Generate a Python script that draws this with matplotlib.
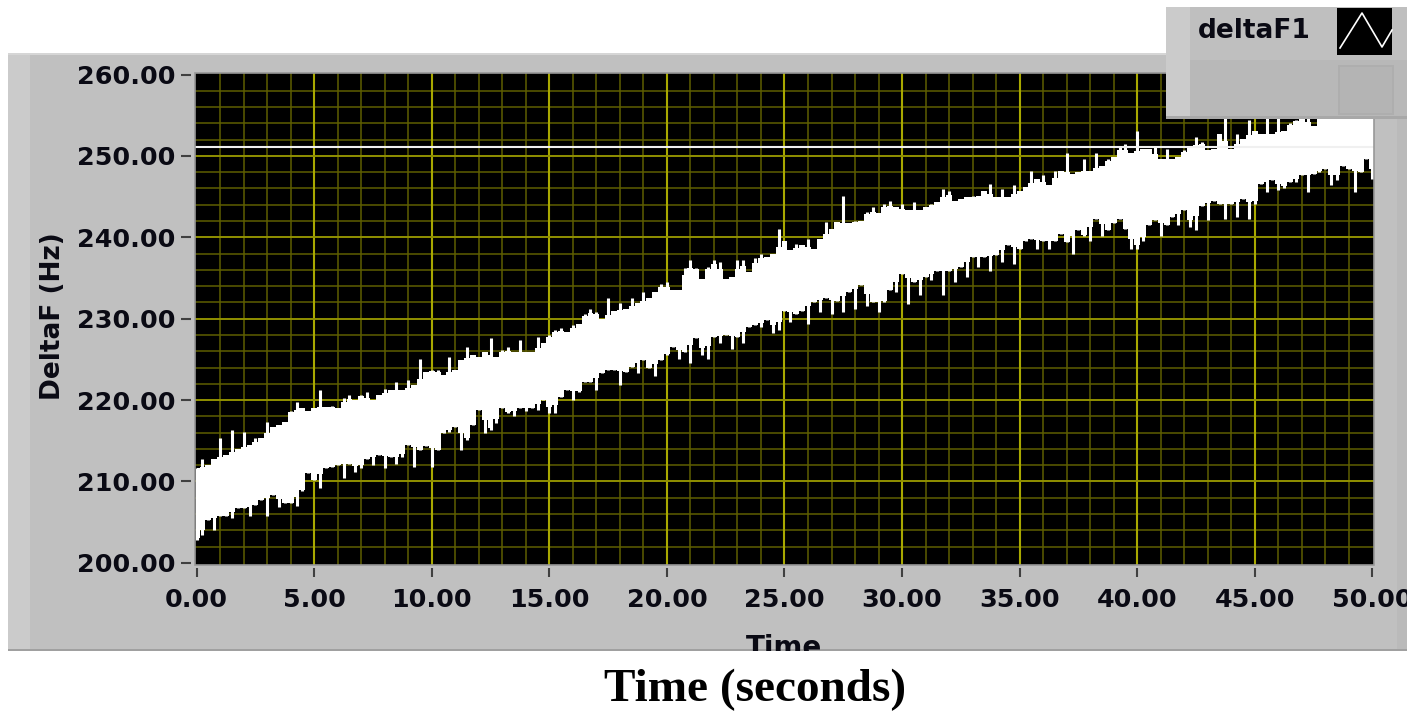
import numpy as np
import matplotlib
matplotlib.use("Agg")
import matplotlib.pyplot as plt
from matplotlib.patches import Rectangle
from matplotlib.lines import Line2D
from matplotlib.ticker import FormatStrFormatter

SAMPLE_STEP = 0.25
upper = [
 211.6,212.8,212.0,212.8,215.3,213.3,216.3,214.0,216.1,214.5,215.3,215.3,217.3,216.7,216.9,217.3,
 218.6,219.8,219.0,218.6,219.0,221.2,219.2,219.3,219.0,220.2,220.6,220.0,220.6,221.0,220.0,220.6,
 221.4,221.2,222.2,221.2,222.5,221.8,225.0,223.5,223.7,223.7,223.1,225.3,223.7,224.9,226.5,225.5,
 225.3,225.9,227.6,225.3,226.1,226.5,225.9,227.4,225.9,225.9,227.8,227.0,228.0,228.6,228.8,228.4,
 229.2,229.4,230.6,231.2,230.8,230.0,232.5,231.0,231.9,231.2,232.5,231.9,233.3,232.5,233.3,234.3,
 234.5,233.5,233.5,236.2,237.2,236.2,234.9,236.4,237.2,237.0,234.9,235.1,237.2,237.2,235.7,237.4,
 238.0,237.6,238.0,241.0,239.6,238.4,239.2,239.0,239.8,238.6,239.8,241.9,241.0,241.9,245.1,241.7,
 242.0,242.0,243.1,243.7,243.0,244.1,244.5,243.7,244.1,243.3,244.3,243.3,243.7,244.1,244.3,245.9,
 245.7,244.5,244.7,244.9,245.1,245.1,245.7,246.6,244.9,245.9,244.9,246.4,245.7,246.2,248.2,247.2,
 247.6,246.4,248.2,248.2,250.3,247.8,248.0,249.6,248.2,250.3,248.8,249.6,249.9,251.1,251.5,250.3,
 253.1,250.9,250.9,251.1,249.6,250.9,249.6,249.9,250.7,251.1,252.3,251.7,250.7,250.9,252.7,254.6,
 250.9,252.7,252.1,254.4,253.1,252.7,254.6,252.7,254.6,253.1,254.1,254.4,254.6,254.6,253.7,255.2,
 255.4,255.6,255.8,256.0,256.2,256.4,256.6,256.8,257.0,
]
lower = [
 202.8,203.4,205.3,204.0,205.7,205.7,205.5,206.7,206.7,205.7,207.1,207.7,205.7,208.3,206.9,207.3,
 207.3,207.0,208.8,211.0,210.2,209.2,211.6,211.8,212.0,210.4,212.2,211.2,211.6,212.8,212.0,213.2,
 211.6,213.0,212.2,213.0,214.5,211.8,213.9,214.3,211.8,213.9,215.9,216.1,216.7,213.9,215.1,216.9,
 218.8,215.9,216.3,217.2,219.0,218.4,218.0,219.0,218.6,219.0,218.8,220.0,218.4,218.4,220.4,221.2,
 220.0,221.0,222.2,222.2,221.2,223.3,223.7,223.7,221.8,223.5,224.1,223.3,224.9,223.9,222.9,224.9,
 225.5,226.5,225.1,225.9,224.5,227.6,225.5,225.1,227.8,227.0,228.0,226.3,227.8,227.0,229.0,229.2,
 229.0,229.8,228.2,228.6,231.0,229.6,230.6,231.0,229.4,232.0,230.8,232.5,230.6,232.2,230.8,233.3,
 231.2,234.1,231.6,232.0,230.8,232.0,233.5,233.3,235.5,231.8,234.5,232.9,235.1,234.7,235.9,232.9,
 235.9,234.5,236.3,235.1,237.6,236.3,237.6,235.9,237.8,237.0,239.0,236.7,238.6,239.6,239.8,238.6,
 239.6,238.6,239.6,240.4,239.4,238.0,240.9,240.2,239.6,242.3,240.2,240.9,241.7,242.3,241.0,238.6,
 238.6,239.6,241.5,242.1,240.2,241.5,242.5,241.5,243.3,241.3,240.9,243.9,242.1,244.5,244.1,242.3,
 244.1,242.5,244.7,242.3,244.1,246.6,245.6,247.0,245.8,246.0,246.8,246.8,247.6,245.6,247.8,248.0,
 248.4,246.4,247.0,248.8,248.4,245.6,248.0,249.6,247.2,
]
reference_level = 251.15
y_ticks = [200, 210, 220, 230, 240, 250, 260]
x_ticks = [0, 5, 10, 15, 20, 25, 30, 35, 40, 45, 50]
x_minor_grid = [v for v in range(1, 50) if v % 5]
y_minor_grid = [v for v in range(202, 260, 2) if v % 10]
time = np.arange(len(upper)) * SAMPLE_STEP

W, H = 1407, 715
plt.rcParams["font.family"] = ["DejaVu Sans"]
plt.rcParams["font.weight"] = "bold"
fig = plt.figure(figsize=(W / 100, H / 100), dpi=100, facecolor="white")
INK = "#0a0a14"
TICK_SIZE = 18.3

def box(x0, y0, x1, y1):
    return (x0 / W, 1 - y1 / H, (x1 - x0) / W, (y1 - y0) / H)

def panel(x0, y0, x1, y1, color, z):
    l, b, w, h = box(x0, y0, x1, y1)
    fig.add_artist(Rectangle((l, b), w, h, transform=fig.transFigure, facecolor=color, edgecolor="none", zorder=z))

panel(8, 53, 1407, 650, "#c0c0c0", -5)
panel(8, 53, 30, 650, "#cbcbcb", -4)
panel(8, 53, 1407, 55, "#d6d6d6", -4)
panel(1397, 53, 1407, 650, "#bababa", -4)
panel(8, 649, 1407, 650.5, "#a0a0a0", -4)
panel(0, 650.5, 1407, 715, "white", 4)

ax = fig.add_axes(box(194.5, 72.5, 1374, 564.5))
ax.set_facecolor("black")
ax.set_xticks(x_ticks)
ax.set_yticks(y_ticks)
ax.xaxis.set_major_formatter(FormatStrFormatter("%.2f"))
ax.yaxis.set_major_formatter(FormatStrFormatter("%.2f"))
# grid lines: none at the plot's edges, as in the reference
ax.vlines(x_minor_grid, 199.8, 260.25, color="#5f5f00", lw=1.1, zorder=1)
ax.hlines(y_minor_grid, -0.09, 50.07, color="#5f5f00", lw=1.1, zorder=1)
ax.vlines(x_ticks[1:-1], 199.8, 260.25, color="#a8a800", lw=1.5, zorder=1.2)
ax.hlines(y_ticks[1:-1], -0.09, 50.07, color="#909000", lw=1.4, zorder=1.2)
ax.set_xlim(-0.09, 50.07)
ax.set_ylim(199.8, 260.25)
ax.tick_params(axis="y", which="major", length=7.2, width=1.5, color="#404040", pad=4.3,
               labelsize=TICK_SIZE, labelcolor=INK)
ax.tick_params(axis="x", which="major", length=6.5, width=1.5, color="#404040", pad=8,
               labelsize=TICK_SIZE, labelcolor=INK)
for s in ax.spines.values():
    s.set_color("none")
ax.spines["left"].set_position(("outward", 2.2))
ax.spines["bottom"].set_position(("outward", 2.5))
ax.add_artist(Rectangle((0, 0), 1, 1, transform=ax.transAxes, fill=False, edgecolor="#989898", lw=1.2, clip_on=False, zorder=5))

u = np.array(upper)
l = np.array(lower)
base_u = np.minimum(u, (np.r_[u[0], u[:-1]] + np.r_[u[1:], u[-1]]) / 2)
base_l = np.maximum(l, (np.r_[l[0], l[:-1]] + np.r_[l[1:], l[-1]]) / 2)
ax.fill_between(time, base_l, base_u, step="mid", color="white", lw=0, zorder=3)
ax.vlines(time, l, u, color="white", lw=2.2, zorder=3)
ax.axhline(reference_level, color="#f0f0f0", lw=1.5, zorder=3)

fig.text(53 / W, 1 - 316 / H, "DeltaF (Hz)", rotation=90, ha="center", va="center",
         fontsize=19, color=INK, zorder=3)
fig.text(784 / W, 1 - 634 / H, "Time", ha="center", va="top",
         fontsize=20, color=INK, zorder=3)
fig.text(755 / W, 1 - 690 / H, "Time (seconds)", ha="center", va="center",
         fontsize=34, family="Liberation Serif", color="black", zorder=6)

panel(1166, 7, 1407, 118, "#bfbfbf", 7)
panel(1166, 7, 1190, 118, "#cbcbcb", 7.1)
panel(1190, 60, 1407, 116, "#b8b8b8", 7.1)
panel(1166, 116, 1407, 118.5, "#a8a8a8", 7.2)
panel(1338, 65, 1394, 115, "#aeaeae", 7.3)
panel(1340, 67, 1392, 113, "#b4b4b4", 7.4)
panel(1337, 8, 1392, 55, "black", 7.3)
fig.add_artist(Line2D(np.array([1340, 1362, 1382, 1392]) / W, 1 - np.array([48, 13, 47, 30]) / H,
                      transform=fig.transFigure, color="white", lw=1.2, zorder=7.5))
fig.text(1254 / W, 1 - 31 / H, "deltaF1", ha="center", va="center", fontsize=19,
         color=INK, zorder=7.5)

fig.savefig("out.png", dpi=100)
